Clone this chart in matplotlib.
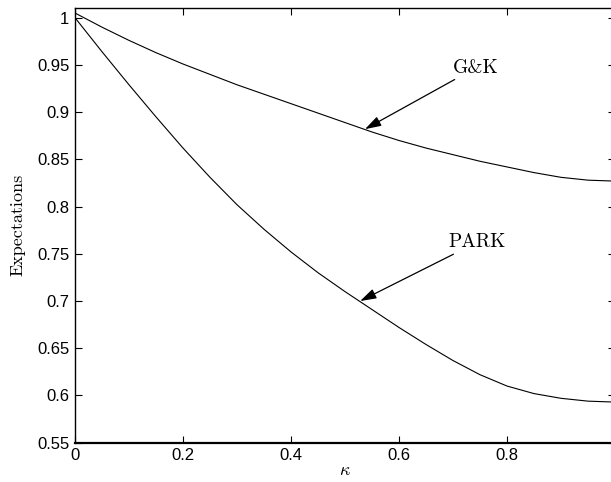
import numpy as np
import matplotlib.pyplot as plt

plt.rcParams['font.family'] = ['Liberation Sans', 'DejaVu Sans']
plt.rcParams['mathtext.fontset'] = 'cm'

# kappa grid and the two expectation curves
kappa = [0.00, 0.05, 0.10, 0.15, 0.20, 0.25, 0.30, 0.35, 0.40, 0.45, 0.50,
         0.55, 0.60, 0.65, 0.70, 0.75, 0.80, 0.85, 0.90, 0.95, 1.00]
gk = [1.005, 0.990, 0.976, 0.963, 0.951, 0.940, 0.929, 0.919, 0.909, 0.899, 0.889,
      0.879, 0.870, 0.862, 0.855, 0.848, 0.842, 0.836, 0.831, 0.828, 0.827]
park = [1.000, 0.964, 0.929, 0.895, 0.862, 0.831, 0.802, 0.776, 0.752, 0.730, 0.710,
        0.691, 0.672, 0.654, 0.637, 0.622, 0.610, 0.602, 0.597, 0.594, 0.593]

xticks = [0, 0.2, 0.4, 0.6, 0.8, 1.0]
xticklabels = ['0', '0.2', '0.4', '0.6', '0.8', '']
yticks = [0.55, 0.6, 0.65, 0.7, 0.75, 0.8, 0.85, 0.9, 0.95, 1.0]
yticklabels = ['0.55', '0.6', '0.65', '0.7', '0.75', '0.8', '0.85', '0.9', '0.95', '1']

fig = plt.figure(figsize=(6.11, 4.82), dpi=100)
ax = fig.add_axes([75 / 611, 39.3 / 482, 540 / 611, 434.7 / 482])

ax.plot(kappa, gk, color='black', lw=0.8)
ax.plot(kappa, park, color='black', lw=0.8)

ax.set_xlim(0, 1)
ax.set_ylim(0.55, 1.0103)
ax.set_xticks(xticks)
ax.set_xticklabels(xticklabels)
ax.set_yticks(yticks)
ax.set_yticklabels(yticklabels)
ax.tick_params(direction='in', length=5, width=0.8, top=True, right=True,
               labelsize=12, pad=4)
for s in ax.spines.values():
    s.set_linewidth(1.0)
ax.spines['bottom'].set_linewidth(1.6)

ax.set_xlabel(r'$\kappa$', fontsize=13, labelpad=-1)
ax.set_ylabel('Expectations', family='cmr10', fontsize=13, labelpad=8)

arrow = dict(arrowstyle='-|>,head_length=0.7,head_width=0.22', color='black',
             lw=0.9, shrinkA=0, shrinkB=0)
ax.annotate('G&K', xy=(0.537, 0.882), xytext=(0.700, 0.947), family='cmr10',
            fontsize=14, va='center', ha='left', arrowprops=arrow)
ax.annotate('PARK', xy=(0.528, 0.700), xytext=(0.691, 0.762), family='cmr10',
            fontsize=14, va='center', ha='left', arrowprops=arrow)

fig.savefig('out.png', dpi=100)
